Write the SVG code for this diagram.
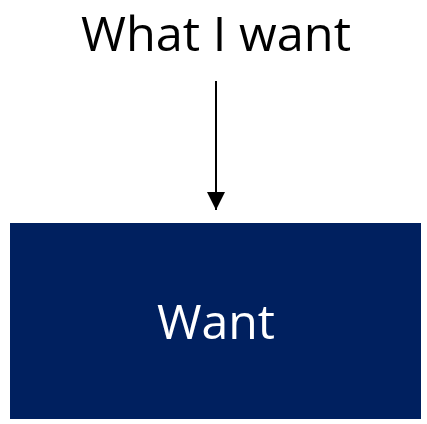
<svg xmlns="http://www.w3.org/2000/svg" width="427" height="424" viewBox="0 0 427 424">
<defs>
<marker id="ah" markerWidth="18" markerHeight="18" refX="18" refY="9" orient="auto" markerUnits="userSpaceOnUse">
<path d="M0,0 L18,9 L0,18 Z" fill="#000"/>
</marker>
<style>
.lbl{font-family:"Open Sans","Liberation Sans",sans-serif;text-anchor:middle}
</style>
</defs>
<rect width="427" height="424" fill="#fff"/>
<g id="title">
<text class="lbl" x="216" y="51" font-size="48" fill="#000" textLength="270" lengthAdjust="spacingAndGlyphs">What I want</text>
</g>
<g id="connectors">
<line x1="216" y1="81" x2="216" y2="210" stroke="#000" stroke-width="2" marker-end="url(#ah)"/>
</g>
<g id="want">
<rect x="10" y="223" width="411" height="196" fill="#00205F"/>
<text class="lbl" x="216" y="339" font-size="48" fill="#fff" textLength="118" lengthAdjust="spacingAndGlyphs">Want</text>
</g>
</svg>
